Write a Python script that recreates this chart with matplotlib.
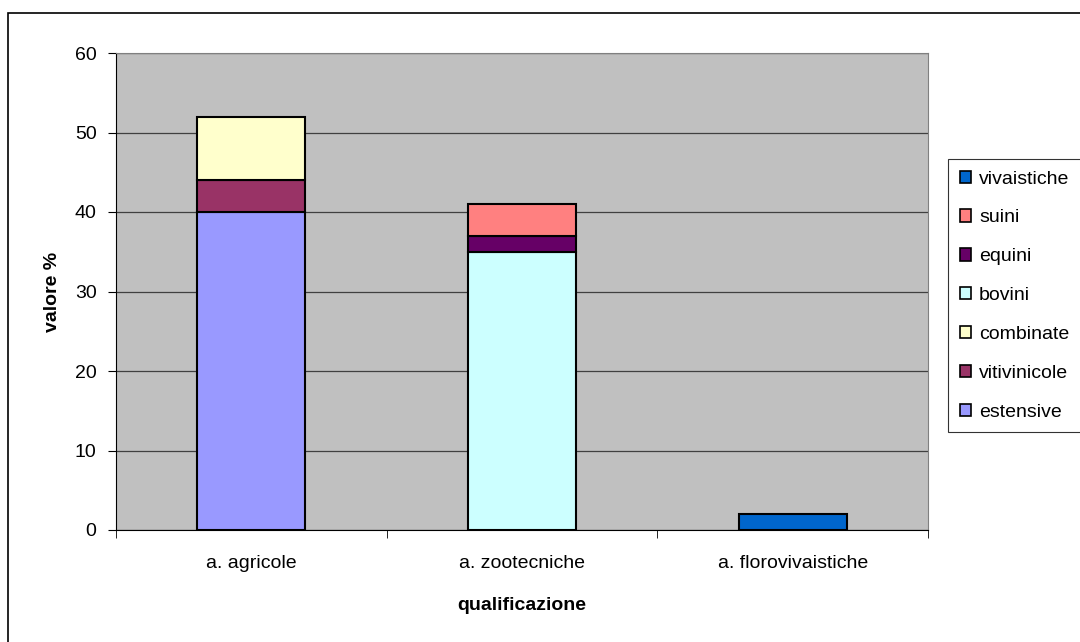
import matplotlib
matplotlib.use("Agg")
import matplotlib.pyplot as plt
from matplotlib.patches import Rectangle, Patch

# DATA
categories = ["a. agricole", "a. zootecniche", "a. florovivaistiche"]
series_names = ["estensive", "vitivinicole", "combinate", "bovini", "equini", "suini", "vivaistiche"]
estensive = [40, 0, 0]
vitivinicole = [4, 0, 0]
combinate = [8, 0, 0]
bovini = [0, 35, 0]
equini = [0, 2, 0]
suini = [0, 4, 0]
vivaistiche = [0, 0, 2]
colors = ["#9999ff", "#993366", "#ffffcc", "#ccffff", "#660066", "#ff8080", "#0066cc"]
yticks = [0, 10, 20, 30, 40, 50, 60]

plt.rcParams["font.family"] = ["Liberation Sans", "DejaVu Sans"]
FS = 14

fig = plt.figure(figsize=(10.8, 6.42), dpi=100)
ax = fig.add_axes([116 / 1080, 1 - 530 / 642, (928 - 116) / 1080, (530 - 53) / 642])
ax.set_facecolor("#c0c0c0")

# outer frame of the chart
fig.patches.append(Rectangle((8 / 1080, -0.05), 1.1, 1 - 13 / 642 + 0.05,
                             transform=fig.transFigure, fill=False,
                             edgecolor="black", linewidth=1.2))

x = list(range(len(categories)))
bottom = [0, 0, 0]
for name, vals, col in zip(series_names,
                           [estensive, vitivinicole, combinate, bovini, equini, suini, vivaistiche],
                           colors):
    bars = ax.bar(x, vals, width=0.4, bottom=bottom, color=col,
                  edgecolor="black", linewidth=1.5, zorder=3)
    for b, v in zip(bars, vals):
        if v == 0:
            b.set_visible(False)
    bottom = [b + h for b, h in zip(bottom, vals)]

ax.set_xlim(-0.5, 2.5)
ax.set_ylim(0, 60)
ax.set_yticks(yticks)
ax.yaxis.grid(True, color="#404040", linewidth=0.9, zorder=1)
ax.set_axisbelow(True)

ax.set_xticks(x)
ax.set_xticklabels(categories, fontsize=FS)
ax.tick_params(axis="x", length=0, pad=18)
ax.set_xticks([-0.5, 0.5, 1.5, 2.5], minor=True)
ax.tick_params(axis="x", which="minor", length=6, color="black")
ax.tick_params(axis="y", labelsize=FS, length=6, pad=8)

for s in ["left", "bottom"]:
    ax.spines[s].set_color("black")
for s in ["top", "right"]:
    ax.spines[s].set_color("#808080")

ax.set_xlabel("qualificazione", fontsize=FS, fontweight="bold", labelpad=18)
ax.set_ylabel("valore %", fontsize=FS, fontweight="bold", labelpad=10)

handles = [Patch(facecolor=c, edgecolor="black", linewidth=1.2) for c in colors]
leg = ax.legend(handles[::-1], series_names[::-1], loc="upper left",
                bbox_to_anchor=(948 / 1080, 1 - 159 / 642), bbox_transform=fig.transFigure,
                fontsize=FS, frameon=True, fancybox=False, edgecolor="black",
                handlelength=0.6, handleheight=0.6, handletextpad=0.4,
                labelspacing=1.12, borderpad=0.6, borderaxespad=0)
leg.get_frame().set_linewidth(0.8)

fig.savefig("out.png", dpi=100, facecolor="white")
